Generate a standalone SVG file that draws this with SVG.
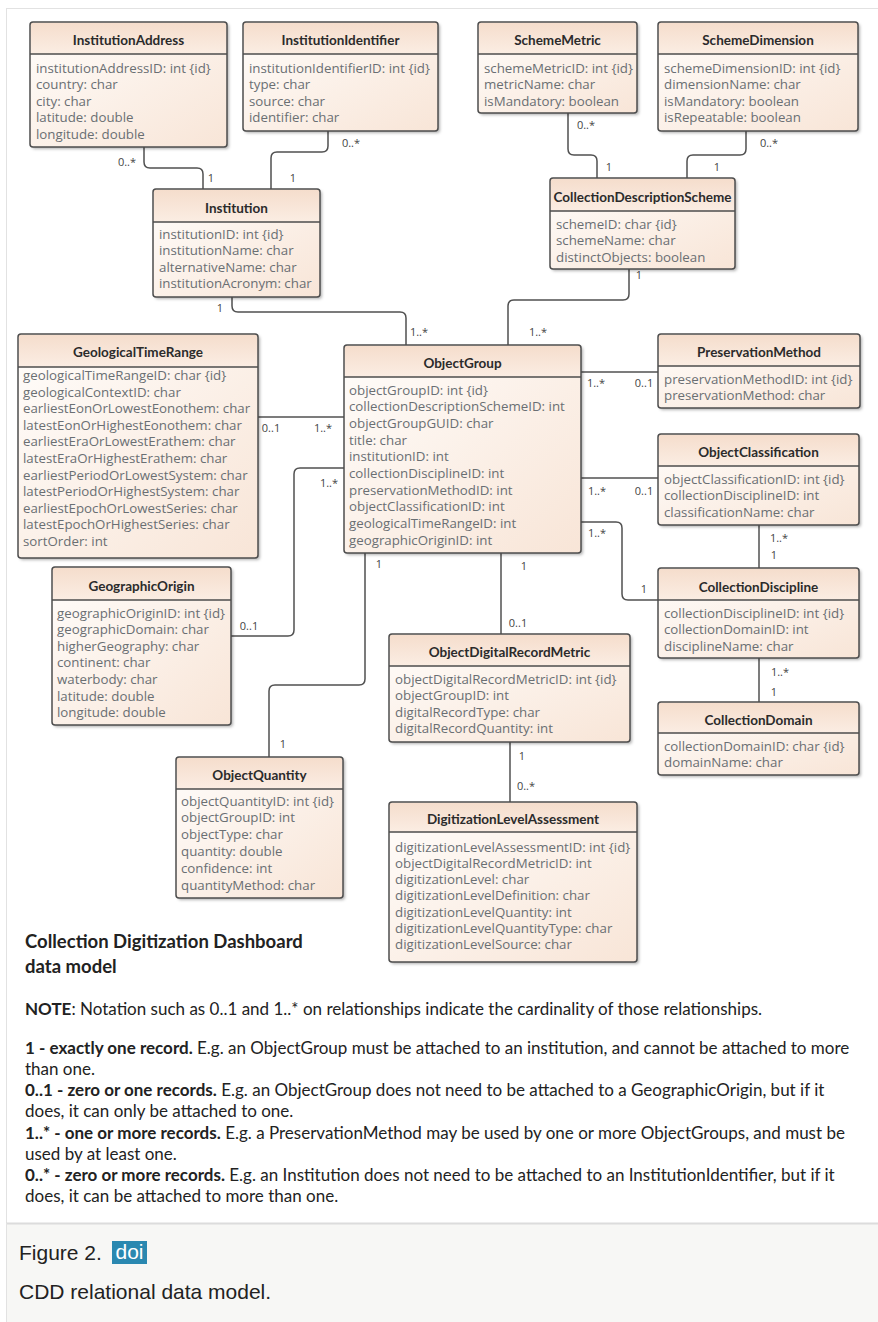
<svg xmlns="http://www.w3.org/2000/svg" width="878" height="1322" viewBox="0 0 878 1322">
<defs>
<linearGradient id="bodyG" x1="0" y1="0" x2="1" y2="1">
<stop offset="0" stop-color="#fffdfb"/>
<stop offset="1" stop-color="#f8e5d7"/>
</linearGradient>
<linearGradient id="hdrG" x1="0" y1="0" x2="0" y2="1">
<stop offset="0" stop-color="#f5ddcc"/>
<stop offset="1" stop-color="#fbede3"/>
</linearGradient>
<filter id="sh" x="-10%" y="-10%" width="130%" height="130%">
<feDropShadow dx="2" dy="2" stdDeviation="1.5" flood-color="#000" flood-opacity="0.3"/>
</filter>
</defs>
<style>
.box{fill:url(#bodyG);filter:url(#sh)}
.hdr{fill:url(#hdrG)}
.frame{fill:none;stroke:#4d4d4d;stroke-width:1.5}
.sep{stroke:#4d4d4d;stroke-width:1.5}
.title{font-family:Lato,"Open Sans",sans-serif;font-weight:700;font-size:13.5px;fill:#2b2b2b;text-anchor:middle}
.attr{font-family:"Open Sans","Noto Sans",sans-serif;font-size:13.3px;fill:#6a6f73}
.conn path{fill:none;stroke:#505050;stroke-width:1.5}
.card{font-family:"Open Sans","Noto Sans",sans-serif;font-size:11px;fill:#444;text-anchor:middle}
.note{font-family:Lato,"Open Sans",sans-serif;font-size:17px;fill:#222}
.b{font-weight:700}
.head{font-family:Lato,"Open Sans",sans-serif;font-size:18.5px;font-weight:700;fill:#222}
.cap{font-family:"Liberation Sans",Arial,sans-serif;font-size:21px;fill:#222}
</style>
<rect x="0" y="0" width="878" height="1322" fill="#fff"/>
<rect x="6.5" y="8.5" width="872" height="1215" fill="#fff" stroke="#e2e2e2"/>
<rect x="6" y="1223" width="872" height="99" fill="#f7f7f5"/>
<line x1="6" y1="1223.5" x2="878" y2="1223.5" stroke="#dcdcdc" stroke-width="2"/>
<line x1="6.5" y1="1223" x2="6.5" y2="1322" stroke="#e2e2e2"/>

<g id="connectors" class="conn">
<path d="M144,147 V162 Q144,168 150,168 H197 Q203,168 203,174 V189"/>
<path d="M328,131 V146 Q328,152 322,152 H277 Q271,152 271,158 V189"/>
<path d="M232,297 V306 Q232,312 238,312 H400 Q406,312 406,318 V345"/>
<path d="M568,113 V149 Q568,155 574,155 H591 Q597,155 597,161 V178"/>
<path d="M746,131 V149 Q746,155 740,155 H693 Q687,155 687,161 V178"/>
<path d="M629,269 V294 Q629,300 623,300 H514 Q508,300 508,306 V345"/>
<path d="M581,372 H658"/>
<path d="M581,478 H658"/>
<path d="M581,522 H616 Q622,522 622,528 V594 Q622,600 628,600 H658"/>
<path d="M759,525 V568"/>
<path d="M759,658 V702"/>
<path d="M258,417 H344"/>
<path d="M231,636 H288 Q294,636 294,630 V474 Q294,468 300,468 H344"/>
<path d="M365,553 V679 Q365,685 359,685 H275 Q269,685 269,691 V757"/>
<path d="M501,553 V634"/>
<path d="M510,742 V802"/>
</g>

<g id="labels">
<text class="card" x="127" y="166">0..*</text><text class="card" x="211" y="182">1</text>
<text class="card" x="351" y="147">0..*</text><text class="card" x="293" y="182">1</text>
<text class="card" x="220" y="312">1</text><text class="card" x="419" y="336">1..*</text>
<text class="card" x="586" y="129">0..*</text><text class="card" x="609" y="171">1</text>
<text class="card" x="769" y="147">0..*</text><text class="card" x="717" y="171">1</text>
<text class="card" x="639" y="279">1</text><text class="card" x="538" y="336">1..*</text>
<text class="card" x="596" y="387">1..*</text><text class="card" x="644" y="387">0..1</text>
<text class="card" x="597" y="495">1..*</text><text class="card" x="644" y="495">0..1</text>
<text class="card" x="597" y="537">1..*</text><text class="card" x="644" y="593">1</text>
<text class="card" x="779" y="542">1..*</text><text class="card" x="774" y="559">1</text>
<text class="card" x="780" y="676">1..*</text><text class="card" x="774" y="696">1</text>
<text class="card" x="271" y="432">0..1</text><text class="card" x="323" y="432">1..*</text>
<text class="card" x="249" y="630">0..1</text><text class="card" x="329" y="487">1..*</text>
<text class="card" x="379" y="568">1</text><text class="card" x="283" y="748">1</text>
<text class="card" x="524" y="570">1</text><text class="card" x="518" y="627">0..1</text>
<text class="card" x="522" y="760">1</text><text class="card" x="526" y="790">0..*</text>
</g>

<g id="InstitutionAddress">
<rect class="box" x="30" y="22" width="197" height="125" rx="3"/>
<rect class="hdr" x="30.5" y="22.5" width="196" height="31.5" rx="2"/>
<line class="sep" x1="30" y1="54" x2="227" y2="54"/>
<rect class="frame" x="30" y="22" width="197" height="125" rx="3"/>
<text class="title" x="128.5" y="45">InstitutionAddress</text>
<text class="attr" x="36" y="72.5"><tspan>institutionAddressID: int {id}</tspan><tspan x="36" dy="16.6">country: char</tspan><tspan x="36" dy="16.6">city: char</tspan><tspan x="36" dy="16.6">latitude: double</tspan><tspan x="36" dy="16.6">longitude: double</tspan></text>
</g>

<g id="InstitutionIdentifier">
<rect class="box" x="243" y="22" width="195" height="109" rx="3"/>
<rect class="hdr" x="243.5" y="22.5" width="194" height="31.5" rx="2"/>
<line class="sep" x1="243" y1="54" x2="438" y2="54"/>
<rect class="frame" x="243" y="22" width="195" height="109" rx="3"/>
<text class="title" x="340.5" y="45">InstitutionIdentifier</text>
<text class="attr" x="249" y="72.5"><tspan>institutionIdentifierID: int {id}</tspan><tspan x="249" dy="16.6">type: char</tspan><tspan x="249" dy="16.6">source: char</tspan><tspan x="249" dy="16.6">identifier: char</tspan></text>
</g>

<g id="SchemeMetric">
<rect class="box" x="478" y="22" width="159" height="91" rx="3"/>
<rect class="hdr" x="478.5" y="22.5" width="158" height="31.5" rx="2"/>
<line class="sep" x1="478" y1="54" x2="637" y2="54"/>
<rect class="frame" x="478" y="22" width="159" height="91" rx="3"/>
<text class="title" x="557.5" y="45">SchemeMetric</text>
<text class="attr" x="484" y="73"><tspan>schemeMetricID: int {id}</tspan><tspan x="484" dy="16.3">metricName: char</tspan><tspan x="484" dy="16.3">isMandatory: boolean</tspan></text>
</g>

<g id="SchemeDimension">
<rect class="box" x="658" y="22" width="200" height="109" rx="3"/>
<rect class="hdr" x="658.5" y="22.5" width="199" height="31.5" rx="2"/>
<line class="sep" x1="658" y1="54" x2="858" y2="54"/>
<rect class="frame" x="658" y="22" width="200" height="109" rx="3"/>
<text class="title" x="758" y="45">SchemeDimension</text>
<text class="attr" x="664" y="73"><tspan>schemeDimensionID: int {id}</tspan><tspan x="664" dy="16.4">dimensionName: char</tspan><tspan x="664" dy="16.4">isMandatory: boolean</tspan><tspan x="664" dy="16.4">isRepeatable: boolean</tspan></text>
</g>

<g id="Institution">
<rect class="box" x="153" y="189" width="167" height="108" rx="3"/>
<rect class="hdr" x="153.5" y="189.5" width="166" height="32.5" rx="2"/>
<line class="sep" x1="153" y1="222" x2="320" y2="222"/>
<rect class="frame" x="153" y="189" width="167" height="108" rx="3"/>
<text class="title" x="236.5" y="212.5">Institution</text>
<text class="attr" x="159" y="238.5"><tspan>institutionID: int {id}</tspan><tspan x="159" dy="16.6">institutionName: char</tspan><tspan x="159" dy="16.6">alternativeName: char</tspan><tspan x="159" dy="16.6">institutionAcronym: char</tspan></text>
</g>

<g id="CollectionDescriptionScheme">
<rect class="box" x="550" y="178" width="185" height="91" rx="3"/>
<rect class="hdr" x="550.5" y="178.5" width="184" height="32.5" rx="2"/>
<line class="sep" x1="550" y1="211" x2="735" y2="211"/>
<rect class="frame" x="550" y="178" width="185" height="91" rx="3"/>
<text class="title" x="642.5" y="201.5">CollectionDescriptionScheme</text>
<text class="attr" x="556" y="228.5"><tspan>schemeID: char {id}</tspan><tspan x="556" dy="16.6">schemeName: char</tspan><tspan x="556" dy="16.6">distinctObjects: boolean</tspan></text>
</g>

<g id="GeologicalTimeRange">
<rect class="box" x="18" y="334" width="240" height="224" rx="3"/>
<rect class="hdr" x="18.5" y="334.5" width="239" height="32.5" rx="2"/>
<line class="sep" x1="18" y1="367" x2="258" y2="367"/>
<rect class="frame" x="18" y="334" width="240" height="224" rx="3"/>
<text class="title" x="138" y="357">GeologicalTimeRange</text>
<text class="attr" x="23" y="380"><tspan>geologicalTimeRangeID: char {id}</tspan><tspan x="23" dy="16.6">geologicalContextID: char</tspan><tspan x="23" dy="16.6">earliestEonOrLowestEonothem: char</tspan><tspan x="23" dy="16.6">latestEonOrHighestEonothem: char</tspan><tspan x="23" dy="16.6">earliestEraOrLowestErathem: char</tspan><tspan x="23" dy="16.6">latestEraOrHighestErathem: char</tspan><tspan x="23" dy="16.6">earliestPeriodOrLowestSystem: char</tspan><tspan x="23" dy="16.6">latestPeriodOrHighestSystem: char</tspan><tspan x="23" dy="16.6">earliestEpochOrLowestSeries: char</tspan><tspan x="23" dy="16.6">latestEpochOrHighestSeries: char</tspan><tspan x="23" dy="16.6">sortOrder: int</tspan></text>
</g>

<g id="ObjectGroup">
<rect class="box" x="344" y="345" width="237" height="208" rx="3"/>
<rect class="hdr" x="344.5" y="345.5" width="236" height="31.5" rx="2"/>
<line class="sep" x1="344" y1="377" x2="581" y2="377"/>
<rect class="frame" x="344" y="345" width="237" height="208" rx="3"/>
<text class="title" x="462.5" y="367.5">ObjectGroup</text>
<text class="attr" x="349" y="394.5"><tspan>objectGroupID: int {id}</tspan><tspan x="349" dy="16.67">collectionDescriptionSchemeID: int</tspan><tspan x="349" dy="16.67">objectGroupGUID: char</tspan><tspan x="349" dy="16.67">title: char</tspan><tspan x="349" dy="16.67">institutionID: int</tspan><tspan x="349" dy="16.67">collectionDisciplineID: int</tspan><tspan x="349" dy="16.67">preservationMethodID: int</tspan><tspan x="349" dy="16.67">objectClassificationID: int</tspan><tspan x="349" dy="16.67">geologicalTimeRangeID: int</tspan><tspan x="349" dy="16.67">geographicOriginID: int</tspan></text>
</g>

<g id="PreservationMethod">
<rect class="box" x="658" y="334" width="202" height="74" rx="3"/>
<rect class="hdr" x="658.5" y="334.5" width="201" height="31.5" rx="2"/>
<line class="sep" x1="658" y1="366" x2="860" y2="366"/>
<rect class="frame" x="658" y="334" width="202" height="74" rx="3"/>
<text class="title" x="759" y="357">PreservationMethod</text>
<text class="attr" x="664" y="383.5"><tspan>preservationMethodID: int {id}</tspan><tspan x="664" dy="16.6">preservationMethod: char</tspan></text>
</g>

<g id="ObjectClassification">
<rect class="box" x="658" y="434" width="201" height="91" rx="3"/>
<rect class="hdr" x="658.5" y="434.5" width="200" height="31.5" rx="2"/>
<line class="sep" x1="658" y1="466" x2="859" y2="466"/>
<rect class="frame" x="658" y="434" width="201" height="91" rx="3"/>
<text class="title" x="758.5" y="456.5">ObjectClassification</text>
<text class="attr" x="664" y="483.5"><tspan>objectClassificationID: int {id}</tspan><tspan x="664" dy="16.5">collectionDisciplineID: int</tspan><tspan x="664" dy="16.5">classificationName: char</tspan></text>
</g>

<g id="CollectionDiscipline">
<rect class="box" x="658" y="568" width="201" height="90" rx="3"/>
<rect class="hdr" x="658.5" y="568.5" width="200" height="31.5" rx="2"/>
<line class="sep" x1="658" y1="600" x2="859" y2="600"/>
<rect class="frame" x="658" y="568" width="201" height="90" rx="3"/>
<text class="title" x="758.5" y="591.5">CollectionDiscipline</text>
<text class="attr" x="664" y="617.5"><tspan>collectionDisciplineID: int {id}</tspan><tspan x="664" dy="16.5">collectionDomainID: int</tspan><tspan x="664" dy="16.5">disciplineName: char</tspan></text>
</g>

<g id="CollectionDomain">
<rect class="box" x="658" y="702" width="201" height="73" rx="3"/>
<rect class="hdr" x="658.5" y="702.5" width="200" height="30.5" rx="2"/>
<line class="sep" x1="658" y1="733" x2="859" y2="733"/>
<rect class="frame" x="658" y="702" width="201" height="73" rx="3"/>
<text class="title" x="758.5" y="724.5">CollectionDomain</text>
<text class="attr" x="664" y="750.5"><tspan>collectionDomainID: char {id}</tspan><tspan x="664" dy="16.5">domainName: char</tspan></text>
</g>

<g id="GeographicOrigin">
<rect class="box" x="52" y="567" width="179" height="158" rx="3"/>
<rect class="hdr" x="52.5" y="567.5" width="178" height="32.5" rx="2"/>
<line class="sep" x1="52" y1="600" x2="231" y2="600"/>
<rect class="frame" x="52" y="567" width="179" height="158" rx="3"/>
<text class="title" x="141.5" y="590.5">GeographicOrigin</text>
<text class="attr" x="57" y="617.5"><tspan>geographicOriginID: int {id}</tspan><tspan x="57" dy="16.6">geographicDomain: char</tspan><tspan x="57" dy="16.6">higherGeography: char</tspan><tspan x="57" dy="16.6">continent: char</tspan><tspan x="57" dy="16.6">waterbody: char</tspan><tspan x="57" dy="16.6">latitude: double</tspan><tspan x="57" dy="16.6">longitude: double</tspan></text>
</g>

<g id="ObjectDigitalRecordMetric">
<rect class="box" x="389" y="634" width="241" height="108" rx="3"/>
<rect class="hdr" x="389.5" y="634.5" width="240" height="31.5" rx="2"/>
<line class="sep" x1="389" y1="666" x2="630" y2="666"/>
<rect class="frame" x="389" y="634" width="241" height="108" rx="3"/>
<text class="title" x="509.5" y="656.5">ObjectDigitalRecordMetric</text>
<text class="attr" x="395" y="683.5"><tspan>objectDigitalRecordMetricID: int {id}</tspan><tspan x="395" dy="16.6">objectGroupID: int</tspan><tspan x="395" dy="16.6">digitalRecordType: char</tspan><tspan x="395" dy="16.6">digitalRecordQuantity: int</tspan></text>
</g>

<g id="ObjectQuantity">
<rect class="box" x="176" y="757" width="167" height="141" rx="3"/>
<rect class="hdr" x="176.5" y="757.5" width="166" height="31.5" rx="2"/>
<line class="sep" x1="176" y1="789" x2="343" y2="789"/>
<rect class="frame" x="176" y="757" width="167" height="141" rx="3"/>
<text class="title" x="259.5" y="779.5">ObjectQuantity</text>
<text class="attr" x="181" y="805.5"><tspan>objectQuantityID: int {id}</tspan><tspan x="181" dy="16.8">objectGroupID: int</tspan><tspan x="181" dy="16.8">objectType: char</tspan><tspan x="181" dy="16.8">quantity: double</tspan><tspan x="181" dy="16.8">confidence: int</tspan><tspan x="181" dy="16.8">quantityMethod: char</tspan></text>
</g>

<g id="DigitizationLevelAssessment">
<rect class="box" x="389" y="802" width="248" height="160" rx="3"/>
<rect class="hdr" x="389.5" y="802.5" width="247" height="29.5" rx="2"/>
<line class="sep" x1="389" y1="832" x2="637" y2="832"/>
<rect class="frame" x="389" y="802" width="248" height="160" rx="3"/>
<text class="title" x="513" y="823.5">DigitizationLevelAssessment</text>
<text class="attr" x="395" y="851.5"><tspan>digitizationLevelAssessmentID: int {id}</tspan><tspan x="395" dy="16.3">objectDigitalRecordMetricID: int</tspan><tspan x="395" dy="16.3">digitizationLevel: char</tspan><tspan x="395" dy="16.3">digitizationLevelDefinition: char</tspan><tspan x="395" dy="16.3">digitizationLevelQuantity: int</tspan><tspan x="395" dy="16.3">digitizationLevelQuantityType: char</tspan><tspan x="395" dy="16.3">digitizationLevelSource: char</tspan></text>
</g>

<g id="notes">
<text class="head" x="25" y="948">Collection Digitization Dashboard</text>
<text class="head" x="25" y="973">data model</text>
<text class="note" x="25" y="1015"><tspan class="b">NOTE</tspan>: Notation such as 0..1 and 1..* on relationships indicate the cardinality of those relationships.</text>
<text class="note" x="25" y="1054"><tspan class="b">1 - exactly one record.</tspan> E.g. an ObjectGroup must be attached to an institution, and cannot be attached to more</text>
<text class="note" x="25" y="1075">than one.</text>
<text class="note" x="25" y="1096"><tspan class="b">0..1 - zero or one records.</tspan> E.g. an ObjectGroup does not need to be attached to a GeographicOrigin, but if it</text>
<text class="note" x="25" y="1117">does, it can only be attached to one.</text>
<text class="note" x="25" y="1139"><tspan class="b">1..* - one or more records.</tspan> E.g. a PreservationMethod may be used by one or more ObjectGroups, and must be</text>
<text class="note" x="25" y="1160">used by at least one.</text>
<text class="note" x="25" y="1181"><tspan class="b">0..* - zero or more records.</tspan> E.g. an Institution does not need to be attached to an InstitutionIdentifier, but if it</text>
<text class="note" x="25" y="1202">does, it can be attached to more than one.</text>
</g>

<g id="caption">
<text class="cap" x="19" y="1260">Figure 2.</text>
<rect x="112" y="1241" width="35" height="23" fill="#2a88b0"/>
<text class="cap" x="129.5" y="1259" style="fill:#fff" text-anchor="middle">doi</text>
<text class="cap" x="19" y="1299">CDD relational data model.</text>
</g>
</svg>
